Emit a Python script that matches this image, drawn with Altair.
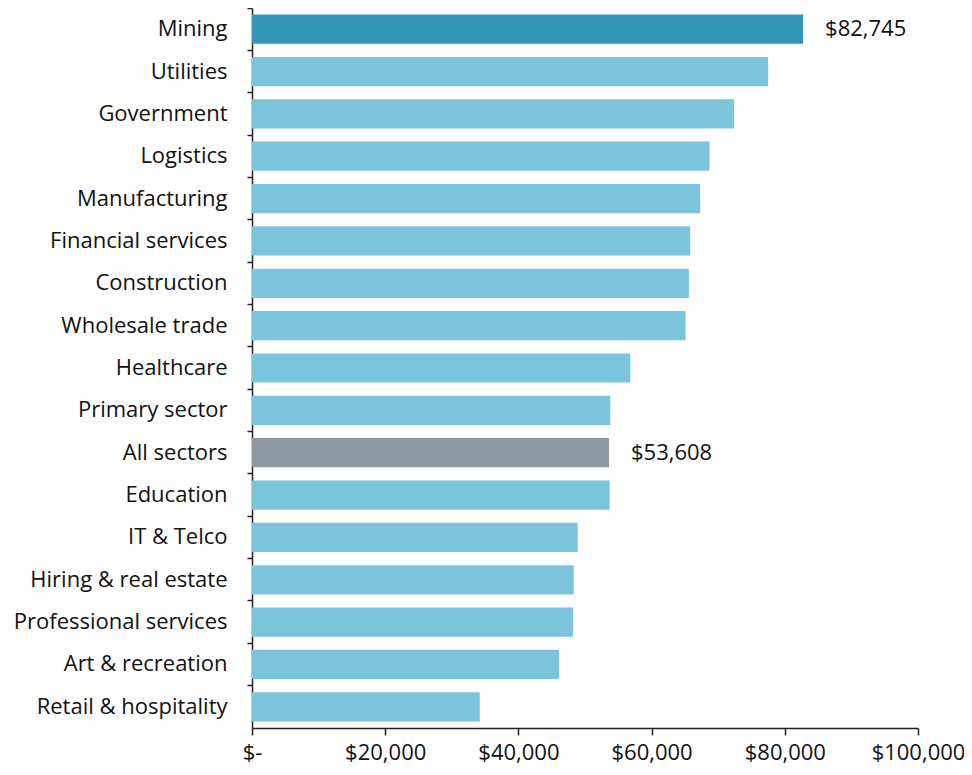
import altair as alt
import pandas as pd

sectors = ["Mining", "Utilities", "Government", "Logistics", "Manufacturing",
           "Financial services", "Construction", "Wholesale trade", "Healthcare",
           "Primary sector", "All sectors", "Education", "IT & Telco",
           "Hiring & real estate", "Professional services", "Art & recreation",
           "Retail & hospitality"]
salaries = [82745, 77500, 72400, 68700, 67300, 65800, 65600, 65100, 56800,
            53800, 53608, 53700, 48900, 48300, 48200, 46100, 34200]
groups = ["top", "other", "other", "other", "other", "other", "other", "other", "other",
          "other", "all", "other", "other", "other", "other", "other", "other"]
labels = ["$82,745", "", "", "", "", "", "", "", "", "", "$53,608", "", "", "", "", "", ""]

df = pd.DataFrame({"sector": sectors, "salary": salaries, "group": groups, "label": labels})

FONT = "Open Sans"
FS = 22

y_enc = alt.Y("sector:N", sort=sectors, title=None,
              scale=alt.Scale(paddingInner=0, paddingOuter=0),
              axis=alt.Axis(bandPosition=0, labelFont=FONT, labelFontSize=FS,
                            labelColor="#111111", labelPadding=20, tickSize=5,
                            tickColor="#222222", domainColor="#222222",
                            domainWidth=1.5, tickWidth=1.5, grid=False,
                            labelLimit=300))
x_enc = alt.X("salary:Q", title=None,
              scale=alt.Scale(domain=[0, 100000], nice=False),
              axis=alt.Axis(values=[0, 20000, 40000, 60000, 80000, 100000],
                            labelExpr="datum.value == 0 ? '$-' : '$' + format(datum.value, ',')",
                            labelFont=FONT, labelFontSize=FS, labelColor="#111111",
                            labelPadding=7, tickSize=7, tickColor="#222222",
                            domainColor="#222222", domainWidth=1.5, tickWidth=1.5,
                            grid=False, labelFlush=False))

bars = alt.Chart(df).mark_bar(height={"band": 0.69}).encode(
    x=x_enc,
    y=y_enc,
    color=alt.Color("group:N",
                    scale=alt.Scale(domain=["top", "other", "all"],
                                    range=["#3196b8", "#7bc4db", "#8f97a1"]),
                    legend=None),
)

text = alt.Chart(df).mark_text(align="left", baseline="middle", dx=22,
                               font=FONT, fontSize=FS, color="#111111").encode(
    x="salary:Q",
    y=alt.Y("sector:N", sort=sectors),
    text="label:N",
)

chart = (bars + text).properties(
    width=666, height=720,
    autosize=alt.AutoSizeParams(type="none"),
    padding={"left": 244, "top": 0, "right": 46, "bottom": 44},
).configure_view(stroke=None)

chart.save("out.html", embed_options={"renderer": "svg", "actions": False})
